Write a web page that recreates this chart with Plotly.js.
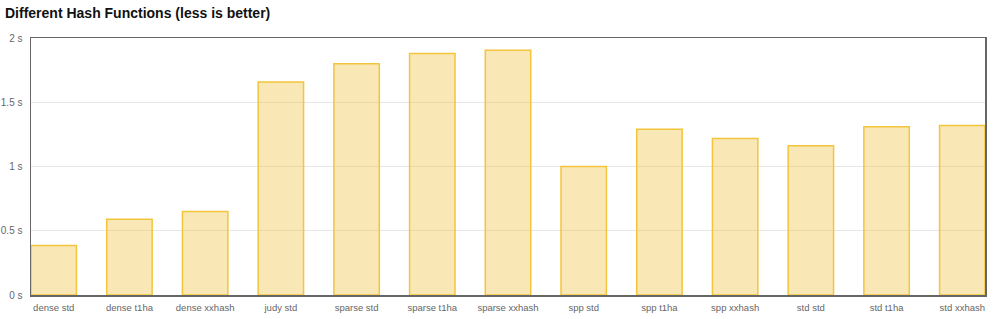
<!DOCTYPE html>
<html><head><meta charset="utf-8">
<script src="https://cdn.plot.ly/plotly-3.0.1.min.js"></script>
<style>html,body{margin:0;padding:0;background:#fff}#chart{width:1000px;height:319px}</style>
</head><body><div id="chart"></div>
<script>
const categories = ["dense std","dense t1ha","dense xxhash","judy std","sparse std","sparse t1ha","sparse xxhash","spp std","spp t1ha","spp xxhash","std std","std t1ha","std xxhash"];
const seconds = [0.385, 0.59, 0.65, 1.657, 1.80, 1.88, 1.905, 1.0, 1.29, 1.218, 1.162, 1.31, 1.32];
const yTicks = [0, 0.5, 1, 1.5, 2];

const trace = {
  type: 'bar', x: categories, y: seconds, width: 0.6,
  marker: {color: 'rgba(240,198,70,0.4)', line: {color: '#f2c53d', width: 1.5}},
  hoverinfo: 'x+y'
};
const layout = {
  width: 1000, height: 319,
  margin: {l: 31, r: 15, t: 38, b: 24},
  paper_bgcolor: '#fff', plot_bgcolor: '#fff',
  showlegend: false,
  font: {family: 'Liberation Sans, Arial, sans-serif', color: '#666', size: 10},
  title: {text: '<b>Different Hash Functions (less is better)</b>', x: 0.005, xanchor: 'left', xref: 'container', y: 1 - 13/319, yanchor: 'middle', yref: 'container',
          font: {family: 'Liberation Sans, Arial, sans-serif', size: 14, color: '#111'}},
  xaxis: {range: [-0.3, 12.3], showline: true, linecolor: '#666', linewidth: 1.5, mirror: true, showgrid: false,
          ticks: 'outside', ticklen: 3, tickcolor: 'rgba(0,0,0,0)', tickfont: {size: 9.5, color: '#666'}, fixedrange: true},
  yaxis: {range: [0, 2], tickvals: yTicks, ticktext: yTicks.map(v => v + ' s'), showline: true, linecolor: '#666', linewidth: 1.5, mirror: true,
          gridcolor: '#e6e6e6', gridwidth: 1, zeroline: false,
          ticks: 'outside', ticklen: 5, tickcolor: 'rgba(0,0,0,0)', tickfont: {size: 10, color: '#666'}, fixedrange: true}
};
Plotly.newPlot('chart', [trace], layout, {displayModeBar: false, staticPlot: true});
</script></body></html>
